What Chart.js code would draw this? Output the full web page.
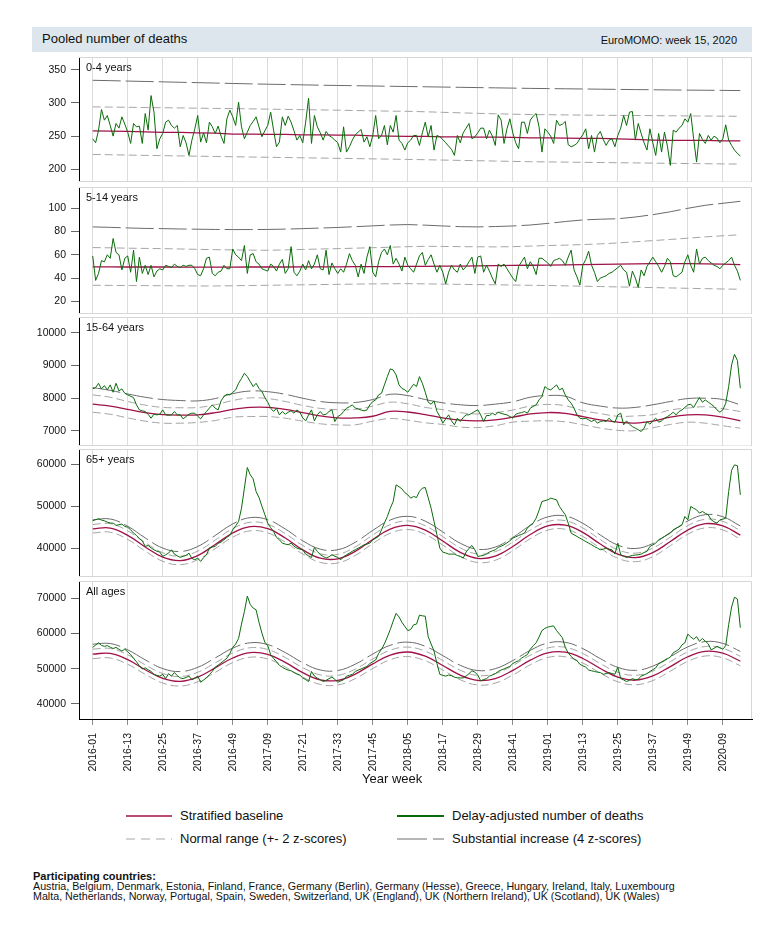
<!DOCTYPE html>
<html>
<head>
<meta charset="utf-8">
<script src="https://cdn.jsdelivr.net/npm/chart.js@4.4.1/dist/chart.umd.min.js"></script>
<style>
  body { margin: 0; background: #fff; font-family: "Liberation Sans", Arial, sans-serif; color: #111; }
  #page { position: relative; width: 780px; height: 936px; overflow: hidden; }
  .abs { position: absolute; white-space: nowrap; }
  canvas { position: absolute; left: 0; }
  #head { left: 32px; top: 27px; width: 720px; height: 25px; background: #dde6ec; }
  #title { left: 42px; top: 31px; font-size: 13px; line-height: 16px; }
  #stamp { right: 43px; top: 33px; font-size: 11px; line-height: 14px; }
  .plab { left: 86px; font-size: 11px; line-height: 13px; }
  #xtitle { left: 362px; top: 771px; font-size: 13px; line-height: 16px; }
  .leg { font-size: 13px; line-height: 16px; }
  #foot { left: 33px; top: 871px; font-size: 10.7px; line-height: 10px; }
  #foot b { display: block; font-size: 11px; }
</style>
</head>
<body>
<div id="page">
  <div id="head" class="abs"></div>
  <div id="title" class="abs">Pooled number of deaths</div>
  <div id="stamp" class="abs">EuroMOMO: week 15, 2020</div>

  <canvas id="p1" width="760" height="125" style="top:57px"></canvas>
  <canvas id="p2" width="760" height="127" style="top:187px"></canvas>
  <canvas id="p3" width="760" height="129" style="top:317px"></canvas>
  <canvas id="p4" width="760" height="128" style="top:449px"></canvas>
  <canvas id="p5" width="760" height="208" style="top:581px"></canvas>

  <div class="abs plab" style="top:61px">0-4 years</div>
  <div class="abs plab" style="top:191px">5-14 years</div>
  <div class="abs plab" style="top:321px">15-64 years</div>
  <div class="abs plab" style="top:453px">65+ years</div>
  <div class="abs plab" style="top:585px">All ages</div>

  <div id="xtitle" class="abs">Year week</div>

  <svg class="abs" style="left:0;top:800px" width="780" height="50">
    <line x1="126" y1="16" x2="172" y2="16" stroke="#a0114a" stroke-width="1.3"/>
    <line x1="397" y1="16" x2="444" y2="16" stroke="#0a6b0a" stroke-width="2"/>
    <line x1="126" y1="39" x2="172" y2="39" stroke="#a8a8a8" stroke-width="1" stroke-dasharray="9,6"/>
    <line x1="397" y1="39" x2="444" y2="39" stroke="#6e6e6e" stroke-width="1" stroke-dasharray="30,6"/>
  </svg>
  <div class="abs leg" style="left:180px;top:808px">Stratified baseline</div>
  <div class="abs leg" style="left:452px;top:808px">Delay-adjusted number of deaths</div>
  <div class="abs leg" style="left:180px;top:831px">Normal range (+- 2 z-scores)</div>
  <div class="abs leg" style="left:452px;top:831px">Substantial increase (4 z-scores)</div>

  <div id="foot" class="abs">
    <b>Participating countries:</b>
    Austria, Belgium, Denmark, Estonia, Finland, France, Germany (Berlin), Germany (Hesse), Greece, Hungary, Ireland, Italy, Luxembourg<br>
    Malta, Netherlands, Norway, Portugal, Spain, Sweden, Switzerland, UK (England), UK (Northern Ireland), UK (Scotland), UK (Wales)
  </div>
</div>

<script>
// weeks are counted from 2016-01 (index 0) to 2020-15 (index 222)
const WEEK_COUNT = 223;
const WEEKS = Array.from({ length: WEEK_COUNT }, (_, i) => i);
// baseline and bands were read every 6 weeks
const BAND_WEEKS = Array.from({ length: 38 }, (_, i) => i * 6);

const TICK_WEEKS = [0, 12, 24, 36, 48, 60, 72, 84, 96, 108, 120, 132, 144, 156, 168, 180, 192, 204, 216];
const TICK_LABELS = [
  "2016-01", "2016-13", "2016-25", "2016-37", "2016-49", "2017-09", "2017-21", "2017-33", "2017-45",
  "2018-05", "2018-17", "2018-29", "2018-41", "2019-01", "2019-13", "2019-25", "2019-37", "2019-49", "2020-09",
];

// ---- 0-4 years
const DEATHS_P1 = [
  246, 240, 259, 290, 274, 281, 266, 250, 269, 262,
  279, 268, 256, 239, 269, 264, 265, 239, 284, 259,
  311, 286, 231, 246, 254, 271, 274, 266, 262, 266,
  234, 251, 240, 221, 244, 261, 281, 241, 255, 240,
  271, 264, 254, 265, 250, 239, 276, 289, 279, 266,
  301, 264, 246, 256, 266, 272, 279, 264, 249, 258,
  266, 286, 259, 234, 241, 279, 266, 280, 271, 258,
  244, 251, 240, 271, 307, 239, 281, 264, 255, 244,
  257, 251, 248, 244, 240, 226, 264, 226, 234, 244,
  252, 256, 260, 241, 249, 234, 251, 281, 246, 251,
  266, 237, 266, 256, 281, 244, 239, 229, 240, 244,
  251, 251, 236, 255, 271, 249, 266, 229, 251, 249,
  245, 240, 235, 230, 221, 251, 240, 255, 262, 269,
  246, 249, 255, 262, 262, 246, 259, 250, 236, 282,
  274, 239, 261, 276, 255, 240, 231, 271, 271, 254,
  274, 280, 284, 264, 226, 261, 256, 250, 239, 274,
  266, 268, 272, 237, 234, 236, 239, 246, 252, 261,
  231, 251, 226, 251, 257, 245, 236, 244, 246, 234,
  251, 262, 281, 266, 286, 287, 244, 269, 254, 240,
  229, 261, 240, 221, 254, 226, 256, 235, 206, 259,
  256, 262, 266, 276, 271, 284, 246, 211, 254, 245,
  239, 251, 244, 250, 247, 240, 246, 267, 244, 236,
  229, 224, 220,
];
const BASE_P1 = [258, 257.5, 257, 256.5, 255.5, 255.5, 255, 254.5, 253, 253, 252.5, 252.5, 252, 252, 251.5, 251.5, 250.5, 250, 249.5,
  249.5, 249, 249, 248.5, 248.5, 248, 247.5, 247.5, 247, 246.5, 246.5, 246, 245, 244, 243.5, 243.5, 243.5, 243, 243];
const HIGH_P1 = [294, 293.7, 293.4, 293, 292.7, 292.4, 292, 291.7, 291.4, 291, 290.6, 290.2, 289.8, 289.4, 289, 288.5, 288, 287.6, 287.3,
  286.6, 285.8, 285, 284.3, 283.6, 283, 282.5, 282.2, 281.9, 281.6, 281.4, 281.2, 281, 280.8, 280.6, 280.4, 280.2, 280, 279.8];
const LOW_P1 = [222.5, 222, 221.5, 221, 220.6, 220.2, 219.8, 219.4, 219, 218.6, 218.2, 217.8, 217.4, 217, 216.6, 216.2, 215.8, 215.4, 215,
  214.5, 214, 213.5, 213, 212.5, 212, 211.5, 211.2, 210.9, 210.6, 210.3, 210, 209.7, 209.4, 209.1, 208.8, 208.5, 208.2, 208];
const SUBST_P1 = [334, 333.4, 332.8, 332.2, 331.6, 331, 330.4, 329.8, 329.2, 328.6, 328.1, 327.6, 327.1, 326.6, 326.2, 325.8, 325.4, 325, 324.6,
  324.2, 323.8, 323.4, 323, 322.6, 322.2, 321.8, 321.5, 321.2, 320.9, 320.6, 320.3, 320, 319.7, 319.4, 319.2, 319, 318.8, 318.5];

// ---- 5-14 years
const DEATHS_P2 = [
  59, 38, 44, 55, 54, 60, 57, 74, 62, 60,
  47, 57, 59, 45, 64, 37, 58, 44, 51, 43,
  51, 41, 46, 48, 47, 51, 50, 49, 52, 50,
  49, 51, 50, 51, 51, 48, 43, 42, 48, 57,
  58, 44, 42, 45, 46, 51, 48, 48, 65, 60,
  58, 55, 68, 44, 60, 61, 54, 52, 48, 47,
  46, 52, 50, 46, 52, 56, 44, 48, 67, 45,
  42, 46, 52, 47, 55, 48, 52, 60, 48, 47,
  64, 43, 53, 48, 44, 48, 45, 52, 61, 55,
  51, 41, 52, 44, 58, 67, 45, 41, 54, 62,
  65, 60, 68, 52, 57, 52, 46, 58, 51, 48,
  45, 52, 59, 62, 51, 56, 60, 52, 45, 51,
  45, 35, 45, 51, 47, 45, 52, 47, 50, 54,
  58, 44, 58, 59, 45, 51, 46, 40, 35, 52,
  50, 52, 48, 44, 40, 37, 50, 54, 58, 48,
  54, 50, 43, 57, 57, 55, 53, 50, 55, 56,
  57, 55, 51, 58, 64, 47, 41, 34, 51, 56,
  63, 51, 45, 37, 40, 41, 42, 44, 45, 47,
  49, 51, 47, 45, 33, 46, 40, 32, 47, 42,
  50, 54, 58, 54, 50, 45, 50, 57, 54, 42,
  41, 43, 45, 54, 60, 51, 45, 65, 52, 57,
  58, 55, 53, 51, 50, 48, 51, 53, 55, 58,
  51, 46, 38,
];
const BASE_P2 = [49.6, 49.6, 49.5, 49.5, 49.5, 49.4, 49.4, 49.4, 49.4, 49.5, 49.5, 49.5, 49.6, 49.6, 49.7, 49.8, 49.8, 49.9, 50,
  50.1, 50.2, 50.3, 50.5, 50.7, 50.9, 51, 51.2, 51.4, 51.6, 51.8, 52, 52.2, 52.4, 52.4, 52.4, 52.2, 52, 51.6];
const HIGH_P2 = [66.2, 66, 65.7, 65.5, 65.3, 65, 64.7, 64.4, 64.2, 64, 63.9, 64.2, 64.6, 65, 65.3, 65.7, 66.1, 66.5, 67,
  67.3, 67.2, 67, 66.9, 66.8, 67, 67.5, 68, 68.3, 68.8, 69.4, 70.2, 71.2, 72.2, 73.2, 74.3, 75.4, 76.4, 77.2];
const LOW_P2 = [33.8, 33.7, 33.6, 33.5, 33.4, 33.3, 33.2, 33.2, 33.4, 33.6, 33.8, 34, 34.2, 34.4, 34.6, 34.8, 35, 35.1, 35.2,
  35, 34.8, 34.6, 34.4, 34.2, 34, 33.8, 33.6, 33.3, 33, 32.7, 32.4, 32.1, 31.8, 31.5, 31.2, 30.9, 30.6, 30.4];
const SUBST_P2 = [84, 83.6, 83.1, 82.7, 82.5, 82.2, 82, 81.8, 81.7, 81.7, 81.8, 82.1, 82.5, 83, 83.5, 84.2, 84.9, 85.6, 86,
  85.5, 84.8, 84.2, 84, 84.3, 84.8, 85.6, 87, 88.6, 90, 90.6, 91, 92.5, 94.5, 97, 100, 102.6, 104.3, 106];

// ---- 15-64 years
const DEATHS_P3 = [
  8285, 8325, 8457, 8285, 8386, 8254, 8407, 8183, 8457, 8224,
  8285, 8150, 8102, 8060, 8020, 7797, 7644, 7614, 7594, 7512,
  7390, 7512, 7492, 7512, 7644, 7492, 7480, 7492, 7594, 7492,
  7492, 7370, 7440, 7512, 7543, 7543, 7450, 7370, 7492, 7594,
  7700, 7797, 7695, 7644, 7919, 8051, 8122, 8102, 8180, 8254,
  8457, 8600, 8762, 8660, 8508, 8356, 8457, 8300, 8203, 8020,
  7878, 7695, 7594, 7695, 7492, 7594, 7512, 7573, 7614, 7543,
  7644, 7573, 7400, 7309, 7492, 7644, 7309, 7492, 7594, 7492,
  7512, 7594, 7644, 7289, 7441, 7492, 7594, 7695, 7740, 7797,
  7700, 7675, 7640, 7614, 7644, 7797, 7898, 7950, 8102, 8152,
  8407, 8660, 8894, 8864, 8711, 8407, 8300, 8254, 8183, 8305,
  8427, 8356, 8660, 8457, 8183, 7878, 7817, 7919, 7600, 7441,
  7238, 7370, 7492, 7309, 7187, 7390, 7289, 7411, 7492, 7492,
  7543, 7600, 7644, 7492, 7289, 7472, 7472, 7543, 7492, 7573,
  7540, 7512, 7492, 7440, 7390, 7512, 7543, 7560, 7594, 7543,
  7695, 7750, 7797, 7950, 8051, 8356, 8285, 8254, 8330, 8407,
  8254, 8305, 8100, 7950, 7848, 7695, 7492, 7390, 7370, 7390,
  7340, 7289, 7340, 7238, 7289, 7309, 7289, 7390, 7300, 7268,
  7492, 7543, 7187, 7309, 7208, 7136, 7086, 7040, 6984, 7086,
  7289, 7208, 7309, 7390, 7268, 7309, 7390, 7441, 7500, 7573,
  7492, 7594, 7644, 7720, 7797, 7817, 7716, 7878, 8020, 7878,
  7950, 7880, 7817, 7746, 7644, 7573, 7644, 7848, 8356, 9016,
  9341, 9150, 8305,
];
const BASE_P3 = [7817, 7760, 7660, 7560, 7500, 7485, 7492, 7560, 7660, 7720, 7720, 7660, 7560, 7460, 7400, 7400, 7450, 7600, 7580,
  7500, 7400, 7330, 7310, 7340, 7420, 7520, 7563, 7540, 7440, 7340, 7270, 7240, 7300, 7420, 7490, 7490, 7420, 7310];
const HIGH_P3 = [8102, 8030, 7900, 7790, 7720, 7710, 7716, 7800, 7930, 8010, 7990, 7900, 7780, 7690, 7650, 7660, 7760, 7880, 7830,
  7720, 7650, 7560, 7520, 7560, 7640, 7760, 7810, 7770, 7620, 7530, 7450, 7460, 7500, 7640, 7700, 7740, 7680, 7594];
const LOW_P3 = [7573, 7510, 7400, 7300, 7240, 7238, 7260, 7320, 7420, 7440, 7441, 7390, 7300, 7220, 7187, 7190, 7300, 7380, 7330,
  7250, 7200, 7120, 7106, 7160, 7270, 7300, 7310, 7280, 7190, 7090, 7020, 7010, 7100, 7200, 7268, 7238, 7160, 7086];
const SUBST_P3 = [8325, 8240, 8130, 8030, 7960, 7930, 7919, 7990, 8140, 8220, 8200, 8120, 8000, 7900, 7860, 7870, 7960, 8120, 8080,
  7960, 7860, 7800, 7777, 7820, 7890, 8030, 8082, 8060, 7860, 7760, 7700, 7720, 7800, 7900, 7990, 8000, 7960, 7797];

// ---- 65+ years
const DEATHS_P4 = [
  46524, 46800, 47000, 46700, 46524, 46200, 46000, 45970, 45418, 45600,
  45733, 45180, 45000, 44390, 43600, 43048, 42300, 41784, 40440, 40678,
  40100, 39651, 39300, 39098, 38071, 38466, 38860, 39651, 38624, 38200,
  37834, 38100, 38308, 38860, 37600, 37281, 37676, 36886, 37800, 38466,
  40046, 40300, 40440, 41200, 41468, 42021, 42600, 43048, 44390, 45300,
  46366, 49526, 54266, 59164, 57426, 56478, 53476, 52054, 50000, 48000,
  45970, 44900, 43996, 42600, 42021, 41231, 41000, 40836, 41231, 40500,
  40046, 39800, 39651, 38624, 38200, 37834, 40204, 39256, 38500, 38071,
  37676, 38000, 38466, 38100, 37834, 37281, 38000, 38466, 38860, 39300,
  39651, 40046, 40400, 40836, 41000, 41231, 42021, 42400, 42811, 44390,
  46000, 47551, 49500, 51106, 55056, 54600, 54108, 53200, 52686, 51896,
  52291, 52054, 53500, 54266, 54424, 52000, 49526, 46366, 43206, 40046,
  39098, 38900, 38624, 38624, 38624, 38300, 38071, 37676, 39098, 40000,
  40678, 39651, 38071, 38200, 38308, 38700, 39098, 39400, 39651, 40204,
  40500, 40836, 41300, 41784, 42416, 42700, 43048, 43300, 43600, 44786,
  45500, 45970, 47156, 49000, 51106, 51300, 51500, 51896, 51700, 51500,
  49920, 48900, 47946, 45970, 43600, 43200, 42811, 42400, 42021, 41600,
  41231, 40836, 40400, 40046, 39651, 39800, 40046, 39800, 39651, 38624,
  41231, 38466, 38100, 37834, 38100, 38308, 38400, 38466, 38624, 39000,
  39256, 40440, 40800, 41231, 42021, 42400, 42811, 43200, 43600, 44390,
  44786, 45100, 45576, 47551, 46761, 49920, 49500, 49130, 48340, 48736,
  48300, 47946, 46761, 46300, 45970, 46761, 46900, 47156, 53476, 58500,
  59796, 59600, 52686,
];
const BASE_P4 = [44600, 44800, 43080, 40310, 37910, 37090, 38280, 40900, 43630, 45130, 44640, 42440, 39630, 37650, 37510, 39280, 42100, 44560, 45430,
  44290, 41730, 39050, 37610, 38150, 40410, 43270, 45300, 45500, 43780, 41010, 38610, 37800, 38990, 41600, 44330, 45830, 45340, 43140];
const HIGH_P4 = [45650, 45850, 44130, 41360, 38960, 38140, 39330, 41950, 44680, 46180, 45690, 43490, 40680, 38700, 38560, 40330, 43150, 45610, 46480,
  45340, 42780, 40100, 38660, 39200, 41460, 44320, 46350, 46550, 44830, 42060, 39660, 38850, 40040, 42650, 45380, 46880, 46390, 44190];
const LOW_P4 = [43620, 43820, 42100, 39330, 36930, 36110, 37300, 39920, 42650, 44150, 43660, 41460, 38650, 36670, 36530, 38300, 41120, 43580, 44450,
  43310, 40750, 38070, 36630, 37170, 39430, 42290, 44320, 44520, 42800, 40030, 37630, 36820, 38010, 40620, 43350, 44850, 44360, 42160];
const SUBST_P4 = [46750, 46950, 45230, 42460, 40060, 39240, 40430, 43050, 45780, 47280, 46790, 44590, 41780, 39800, 39660, 41430, 44250, 46710, 47580,
  46440, 43880, 41200, 39760, 40300, 42560, 45420, 47450, 47650, 45930, 43160, 40760, 39950, 41140, 43750, 46480, 47980, 47490, 45290];

// ---- All ages
const DEATHS_P5 = [
  56031, 56700, 57356, 56600, 56337, 56541, 56100, 55726, 56031, 55500,
  55012, 55522, 54800, 53994, 52900, 51956, 50800, 49918, 50223, 49700,
  49204, 48389, 48100, 47880, 48389, 47166, 48593, 47880, 48898, 48000,
  47370, 47166, 47500, 47880, 46860, 47300, 47880, 46147, 46800, 47370,
  48300, 49204, 50427, 51000, 51650, 52300, 52974, 54299, 56031, 57000,
  58579, 62656, 66222, 70603, 68259, 67200, 66731, 63165, 60107, 57500,
  56541, 53994, 52900, 51956, 50937, 50400, 49918, 49600, 49408, 48898,
  48500, 48185, 47370, 46900, 46351, 49204, 47880, 47300, 46860, 46351,
  46700, 47166, 47574, 47000, 46147, 46500, 46860, 47880, 48100, 48389,
  49204, 49600, 49918, 50300, 50631, 51446, 52000, 52465, 54299, 55500,
  57050, 59000, 61126, 63500, 65712, 64693, 63165, 62000, 60821, 61126,
  62451, 62656, 65203, 65000, 64896, 59088, 57000, 55012, 51446, 48389,
  48100, 47880, 48185, 48000, 47574, 47400, 47370, 47370, 47900, 48593,
  49408, 49000, 48185, 46555, 46900, 47166, 47880, 48200, 48593, 49204,
  49600, 49918, 50300, 50631, 51446, 51900, 52261, 52974, 53500, 53994,
  55522, 56500, 57356, 59000, 60821, 61432, 61800, 62000, 62146, 60821,
  59800, 58783, 56031, 54500, 53484, 52700, 52261, 51242, 50800, 50427,
  49612, 49400, 49204, 49000, 48898, 48389, 48600, 48898, 48593, 48400,
  50427, 47166, 46800, 46351, 46700, 47166, 46860, 47000, 47880, 48200,
  48593, 49204, 49700, 50223, 51446, 51800, 52261, 52800, 53280, 54503,
  55000, 55522, 56745, 57356, 59802, 59000, 58375, 59088, 57764, 58579,
  57800, 57050, 55318, 55800, 56337, 55900, 55522, 56541, 62500, 67500,
  70297, 69788, 61636,
];
const BASE_P5 = [54140, 54330, 52550, 49700, 47230, 46370, 47580, 50240, 53030, 54550, 54040, 51770, 48880, 46830, 46670, 48470, 51350, 53850, 54730,
  53550, 50910, 48150, 46660, 47200, 49500, 52410, 54480, 54670, 52890, 50050, 47570, 46720, 47920, 50590, 53380, 54900, 54380, 52110];
const HIGH_P5 = [55540, 55730, 53950, 51100, 48630, 47770, 48980, 51640, 54430, 55950, 55440, 53170, 50280, 48230, 48070, 49870, 52750, 55250, 56130,
  54950, 52310, 49550, 48060, 48600, 50900, 53810, 55880, 56070, 54290, 51450, 48970, 48120, 49320, 51990, 54780, 56300, 55780, 53510];
const LOW_P5 = [52840, 53030, 51250, 48400, 45930, 45070, 46280, 48940, 51730, 53250, 52740, 50470, 47580, 45530, 45370, 47170, 50050, 52550, 53430,
  52250, 49610, 46850, 45360, 45900, 48200, 51110, 53180, 53370, 51590, 48750, 46270, 45420, 46620, 49290, 52080, 53600, 53080, 50810];
const SUBST_P5 = [56940, 57130, 55350, 52500, 50030, 49170, 50380, 53040, 55830, 57350, 56840, 54570, 51680, 49630, 49470, 51270, 54150, 56650, 57530,
  56350, 53710, 50950, 49460, 50000, 52300, 55210, 57280, 57470, 55690, 52850, 50370, 49520, 50720, 53390, 56180, 57700, 57180, 54910];

const Y_TICKS_P1 = [200, 250, 300, 350];
const Y_TICKS_P2 = [20, 40, 60, 80, 100];
const Y_TICKS_P3 = [7000, 8000, 9000, 10000];
const Y_TICKS_P4 = [40000, 50000, 60000];
const Y_TICKS_P5 = [40000, 50000, 60000, 70000];

const RED = "#a0114a";
const GREEN = "#0a6b0a";
const LIGHT = "#a4a4a4";
const DARK = "#6a6a6a";

Chart.defaults.font.family = "'Liberation Sans', Arial, sans-serif";

const panels = [
  { id: "p1", yMin: 181, yMax: 369, yTicks: Y_TICKS_P1, deaths: DEATHS_P1, base: BASE_P1, hi: HIGH_P1, lo: LOW_P1, sub: SUBST_P1, curved: false },
  { id: "p2", yMin: 9.1, yMax: 118.3, yTicks: Y_TICKS_P2, deaths: DEATHS_P2, base: BASE_P2, hi: HIGH_P2, lo: LOW_P2, sub: SUBST_P2, curved: false },
  { id: "p3", yMin: 6542, yMax: 10479, yTicks: Y_TICKS_P3, deaths: DEATHS_P3, base: BASE_P3, hi: HIGH_P3, lo: LOW_P3, sub: SUBST_P3, curved: true },
  { id: "p4", yMin: 33190, yMax: 63560, yTicks: Y_TICKS_P4, deaths: DEATHS_P4, base: BASE_P4, hi: HIGH_P4, lo: LOW_P4, sub: SUBST_P4, curved: true },
  { id: "p5", yMin: 35700, yMax: 74900, yTicks: Y_TICKS_P5, deaths: DEATHS_P5, base: BASE_P5, hi: HIGH_P5, lo: LOW_P5, sub: SUBST_P5, curved: true, last: true },
];

function pts(xs, ys) {
  return ys.map((y, i) => ({ x: xs[i], y }));
}

// light grey box round each panel (left side is the black y axis)
const framePlugin = {
  id: "frame",
  afterDraw(chart, args, opts) {
    const { ctx, chartArea: a } = chart;
    ctx.save();
    ctx.strokeStyle = "#d6d6d6";
    ctx.lineWidth = 1;
    ctx.beginPath();
    ctx.moveTo(a.left, a.top + 0.5);
    ctx.lineTo(a.right - 0.5, a.top + 0.5);
    ctx.lineTo(a.right - 0.5, a.bottom);
    if (!opts.last) ctx.lineTo(a.left, a.bottom - 0.5);
    ctx.stroke();
    ctx.restore();
  },
};

function makePanel(p) {
  const tension = p.curved ? 0.4 : 0;
  const band = (data, color, dash) => ({
    data: pts(BAND_WEEKS, data),
    borderColor: color,
    borderWidth: 1,
    borderDash: dash,
    tension,
    pointRadius: 0,
  });
  const last = !!p.last;
  return new Chart(document.getElementById(p.id), {
    type: "line",
    data: {
      datasets: [
        { data: pts(WEEKS, p.deaths), borderColor: GREEN, borderWidth: 1, pointRadius: 0, tension: 0 },
        { data: pts(BAND_WEEKS, p.base), borderColor: RED, borderWidth: 1.3, pointRadius: 0, tension },
        band(p.hi, LIGHT, [8, 4]),
        band(p.lo, LIGHT, [8, 4]),
        band(p.sub, DARK, [28, 5]),
      ],
    },
    plugins: [framePlugin],
    options: {
      responsive: false,
      animation: false,
      events: [],
      layout: { padding: { top: 0, right: 8, bottom: 0, left: 0 } },
      plugins: { legend: { display: false }, tooltip: { enabled: false }, frame: { last } },
      scales: {
        x: {
          type: "linear",
          min: -4.7,
          max: 226,
          afterBuildTicks: (s) => { s.ticks = TICK_WEEKS.map((v) => ({ value: v })); },
          afterFit: (s) => { s.height = last ? 70 : 0; s.paddingLeft = 0; s.paddingRight = 0; },
          grid: { color: "#dcdcdc", lineWidth: 1, drawTicks: last, tickLength: 6, tickColor: "#8a8a8a" },
          border: { display: last, color: "#000", width: 1 },
          ticks: {
            display: last,
            autoSkip: false,
            minRotation: 90,
            maxRotation: 90,
            padding: 8,
            color: "#111",
            font: { size: 10.5 },
            callback: (v, i) => TICK_LABELS[i],
          },
        },
        y: {
          min: p.yMin,
          max: p.yMax,
          afterBuildTicks: (s) => { s.ticks = p.yTicks.map((v) => ({ value: v })); },
          afterFit: (s) => { s.width = 79; s.paddingTop = 0; s.paddingBottom = 0; },
          grid: { drawOnChartArea: false, drawTicks: true, tickLength: 8, tickColor: "#666" },
          border: { display: true, color: "#000", width: 1 },
          ticks: { padding: 5, color: "#111", font: { size: 10.5 }, callback: (v) => String(v) },
        },
      },
    },
  });
}

panels.forEach(makePanel);
</script>
</body>
</html>
